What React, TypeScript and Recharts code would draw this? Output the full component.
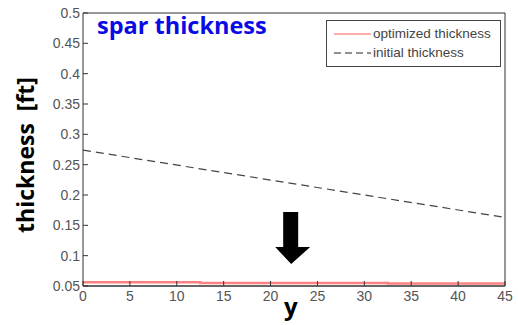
import { Legend, Line, LineChart, ReferenceDot, XAxis, YAxis } from 'recharts';

// spanwise station y [ft] and spar thickness [ft]
const optimizedY = [0, 12.5, 32.5, 45];
const optimizedThickness = [0.056, 0.055, 0.054, 0.054];
const initialY = [0, 45];
const initialThickness = [0.274, 0.163];

const xTicks = [0, 5, 10, 15, 20, 25, 30, 35, 40, 45];
const yTicks = [0.05, 0.1, 0.15, 0.2, 0.25, 0.3, 0.35, 0.4, 0.45, 0.5];

const arrowAt = { y: 22.2, thickness: 0.0863 };

const optimizedData = optimizedY.map((y, i) => ({ y, thickness: optimizedThickness[i] }));
const initialData = initialY.map((y, i) => ({ y, thickness: initialThickness[i] }));

const W = 518;
const H = 325;
const frame = '#333';
const TICK_LEN = 5;
const labelStyle = { fontSize: 14, fill: '#555', fontFamily: '"Liberation Sans", Arial, sans-serif' };

// ticks point into the plot, like the MATLAB box
function LeftTick(p: any) {
  return (
    <g>
      <line x1={p.x + 3} x2={p.x + 3 + TICK_LEN} y1={p.y} y2={p.y} stroke={frame} />
      <text x={p.x} y={p.y} dy="0.36em" textAnchor="end" {...labelStyle}>
        {String(p.payload.value)}
      </text>
    </g>
  );
}

function BottomTick(p: any) {
  return (
    <g>
      <line x1={p.x} x2={p.x} y1={p.y - 2} y2={p.y - 2 - TICK_LEN} stroke={frame} />
      <text x={p.x} y={p.y} dy="0.95em" textAnchor="middle" {...labelStyle}>
        {String(p.payload.value)}
      </text>
    </g>
  );
}

function TopTick(p: any) {
  return <line x1={p.x} x2={p.x} y1={p.y} y2={p.y + TICK_LEN} stroke={frame} />;
}

function RightTick(p: any) {
  return <line x1={p.x} x2={p.x - TICK_LEN} y1={p.y} y2={p.y} stroke={frame} />;
}

function DownArrow(props: { cx?: number; cy?: number }) {
  const { cx = 0, cy = 0 } = props;
  // tip sits at (cx, cy)
  const pts = [
    [cx - 8, cy - 52],
    [cx + 7, cy - 52],
    [cx + 7, cy - 17],
    [cx + 19, cy - 17],
    [cx, cy],
    [cx - 16, cy - 17],
    [cx - 8, cy - 17],
  ]
    .map((p) => p.join(','))
    .join(' ');
  return <polygon points={pts} fill="#000" />;
}

function LegendBox() {
  return (
    <div
      style={{
        border: '1.5px solid #444',
        background: '#fff',
        padding: '3px 6px 4px 7px',
        fontFamily: '"Liberation Sans", Arial, sans-serif',
        fontSize: 13.5,
        color: '#444',
        lineHeight: '19px',
        textAlign: 'left',
      }}
    >
      <div style={{ display: 'flex', alignItems: 'center' }}>
        <svg width={37} height={6}>
          <line x1={0} x2={37} y1={3} y2={3} stroke="#ff5a5a" strokeWidth={1.2} />
        </svg>
        <span style={{ marginLeft: 2 }}>optimized thickness</span>
      </div>
      <div style={{ display: 'flex', alignItems: 'center' }}>
        <svg width={37} height={6}>
          <line x1={0} x2={37} y1={3} y2={3} stroke="#222" strokeWidth={1} strokeDasharray="7 4" />
        </svg>
        <span style={{ marginLeft: 2 }}>initial thickness</span>
      </div>
    </div>
  );
}

export default function App() {
  return (
    <div style={{ position: 'fixed', left: 0, top: 0, width: W, height: H, background: '#fff' }}>
      <LineChart width={W} height={H} margin={{ top: 0, right: 0, bottom: 0, left: 0 }}>
        <XAxis
          xAxisId="b"
          dataKey="y"
          type="number"
          domain={[0, 45]}
          ticks={xTicks}
          height={39}
          tickLine={false}
          tickSize={0}
          tickMargin={2}
          axisLine={{ stroke: frame, strokeWidth: 1.5 }}
          tick={BottomTick}
          interval={0}
          allowDataOverflow
        />
        <XAxis
          xAxisId="t"
          orientation="top"
          type="number"
          domain={[0, 45]}
          ticks={xTicks}
          height={13}
          tickLine={false}
          tickSize={0}
          tickMargin={0}
          axisLine={{ stroke: frame }}
          tick={TopTick}
          interval={0}
        />
        <YAxis
          yAxisId="l"
          type="number"
          domain={[0.05, 0.5]}
          ticks={yTicks}
          width={83}
          tickLine={false}
          tickSize={0}
          tickMargin={3}
          axisLine={{ stroke: frame }}
          tick={LeftTick}
          interval={0}
          allowDataOverflow
        />
        <YAxis
          yAxisId="r"
          orientation="right"
          type="number"
          domain={[0.05, 0.5]}
          ticks={yTicks}
          width={13}
          tickLine={false}
          tickSize={0}
          tickMargin={0}
          axisLine={{ stroke: frame }}
          tick={RightTick}
          interval={0}
        />
        <Legend
          layout="vertical"
          align="center"
          verticalAlign="middle"
          content={() => <LegendBox />}
          wrapperStyle={{ position: 'absolute', top: 20, left: 326, width: 175, bottom: 'auto' }}
        />
        <Line
          xAxisId="b"
          yAxisId="l"
          data={initialData}
          dataKey="thickness"
          type="linear"
          stroke="#444"
          strokeWidth={1.2}
          strokeDasharray="8 5"
          dot={false}
          isAnimationActive={false}
        />
        <Line
          xAxisId="b"
          yAxisId="l"
          data={optimizedData}
          dataKey="thickness"
          type="stepAfter"
          stroke="#ff8080"
          strokeWidth={2.5}
          dot={false}
          isAnimationActive={false}
        />
        <ReferenceDot
          xAxisId="b"
          yAxisId="l"
          x={arrowAt.y}
          y={arrowAt.thickness}
          shape={(p: any) => <DownArrow cx={p.cx} cy={p.cy} />}
        />
      </LineChart>
      <div
        style={{
          position: 'absolute',
          left: 97,
          top: 11,
          fontFamily: '"Open Sans", "Noto Sans", sans-serif',
          fontWeight: 700,
          fontSize: 23.5,
          color: '#0a0ae6',
          whiteSpace: 'nowrap',
          lineHeight: '28px',
        }}
      >
        spar thickness
      </div>
      <div
        style={{
          position: 'absolute',
          left: 25,
          top: 155,
          transform: 'translate(-50%, -50%) rotate(-90deg)',
          fontFamily: '"Open Sans", "Noto Sans", sans-serif',
          fontWeight: 700,
          fontSize: 23,
          color: '#000',
          whiteSpace: 'pre',
        }}
      >
        {'thickness  [ft]'}
      </div>
      <div
        style={{
          position: 'absolute',
          left: 284,
          top: 294,
          fontFamily: '"Open Sans", "Noto Sans", sans-serif',
          fontWeight: 700,
          fontSize: 24,
          lineHeight: '24px',
          color: '#000',
        }}
      >
        y
      </div>
    </div>
  );
}
